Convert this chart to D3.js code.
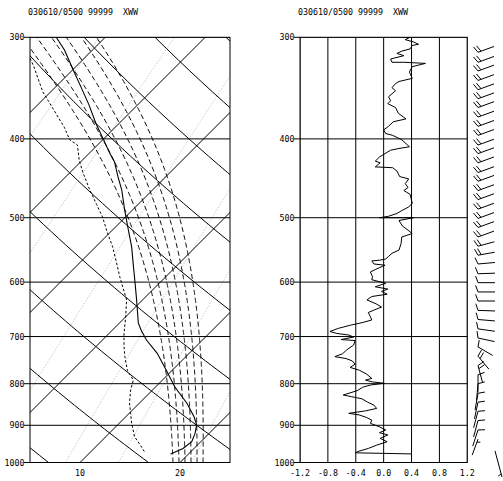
<!DOCTYPE html>
<html>
<head>
<meta charset="utf-8">
<script src="https://cdn.jsdelivr.net/npm/d3@7"></script>
<style>
  body { margin: 0; background: #fff; }
  text { font-family: "DejaVu Sans Mono", monospace; font-size: 8.3px; fill: #000; white-space: pre; }
</style>
</head>
<body>
<svg id="chart" width="503" height="481"></svg>
<script>
'use strict';

// Title shown above both panels
var title = '030610/0500 99999  XWW';

// Pressure levels (hPa) used for grid lines and labels
var pressureTicks = [300, 400, 500, 600, 700, 800, 900, 1000];
var tempTicks = [10, 20];
var valueTicks = [-1.2, -0.8, -0.4, 0.0, 0.4, 0.8, 1.2];

// Background lines of the thermodynamic diagram
var isotherms = [-30, -20, -10, 0, 10, 20];                 // degC
var dryAdiabats = [280, 290, 300, 310, 320, 330, 340, 350, 360]; // theta, K
var moistStart = [19.3, 19.9, 20.5, 21.1, 21.7, 22.3];     // degC at 1000 hPa
var mixRatios = [1, 2, 4, 7, 10, 16, 24];                   // g/kg

// Temperature profile (solid)
var tempP = [300, 311, 328, 343, 363, 383, 398, 417, 427, 445, 462, 489, 513, 543, 569,
             596, 631, 674, 689, 707, 734, 770, 807, 846, 878, 899, 921, 943, 961, 976];
var tempT = [-34.9, -32.8, -30.1, -27.8, -24.9, -22.3, -20.3, -17.9, -16.6, -14.8, -13.1,
             -10.8, -8.8, -6.4, -4.6, -2.8, -0.6, 1.9, 3.0, 4.4, 6.8, 9.4, 11.9, 14.8,
             16.8, 17.9, 18.6, 19.1, 18.9, 18.2];

// Dew point profile (dotted)
var dewP = [311, 326, 350, 369, 387, 401, 407, 425, 440, 462, 482, 499, 521, 543, 567,
            591, 631, 662, 694, 720, 741, 770, 792, 814, 845, 869, 894, 930, 952, 974];
var dewT = [-36.6, -34.2, -30.8, -27.8, -25.1, -23.3, -22.0, -20.3, -18.7, -16.3, -14.1,
            -12.3, -10.3, -8.3, -6.4, -4.6, -1.6, 0.0, 1.5, 2.8, 3.9, 5.5, 7.1, 7.8, 9.0,
            10.1, 11.2, 12.9, 14.3, 15.6];

// Right panel profile
var profP = [300, 302, 304, 306, 307, 310, 312, 314, 316, 319, 322, 322, 323, 326, 331,
             337, 340, 342, 346, 349, 355, 359, 362, 366, 372, 378, 381, 386, 390, 394,
             396, 401, 409, 411, 413, 418, 421, 426, 428, 433, 434, 438, 445, 448, 454,
             459, 463, 468, 480, 485, 490, 494, 498, 500, 500, 504, 512, 518, 523, 528,
             538, 548, 553, 558, 562, 564, 565, 570, 572, 579, 583, 591, 596, 602, 608,
             612, 616, 621, 625, 631, 638, 644, 649, 654, 662, 668, 673, 678, 684, 690,
             694, 697, 701, 706, 708, 717, 727, 735, 741, 745, 750, 757, 764, 770, 778,
             788, 792, 796, 799, 803, 808, 816, 826, 830, 835, 843, 850, 858, 864, 870,
             874, 880, 887, 895, 904, 912, 919, 925, 934, 943, 952, 961, 970, 973, 976];
var profV = [0.38, 0.31, 0.43, 0.50, 0.41, 0.38, 0.26, 0.19, 0.29, 0.10, 0.12, 0.29, 0.60,
             0.41, 0.37, 0.41, 0.22, 0.17, 0.12, 0.17, 0.07, 0.10, 0.06, 0.17, 0.21, 0.32,
             0.14, 0.07, 0.00, 0.03, 0.13, 0.26, 0.37, 0.22, 0.10, 0.00, -0.06, -0.12,
             -0.05, -0.12, 0.13, 0.19, 0.23, 0.36, 0.31, 0.35, 0.29, 0.38, 0.41, 0.36, 0.26,
             0.19, 0.07, -0.06, 0.43, 0.22, 0.27, 0.35, 0.41, 0.26, 0.25, 0.22, 0.12, 0.07,
             0.03, -0.06, -0.17, -0.14, 0.02, -0.12, -0.19, -0.16, -0.17, 0.03, -0.12, 0.06,
             -0.03, 0.05, -0.17, -0.24, -0.11, -0.03, -0.13, -0.22, -0.19, -0.17, -0.31,
             -0.48, -0.65, -0.77, -0.67, -0.50, -0.43, -0.61, -0.41, -0.43, -0.53, -0.59,
             -0.70, -0.54, -0.45, -0.41, -0.48, -0.35, -0.25, -0.17, -0.26, -0.16, 0.01,
             -0.19, -0.30, -0.38, -0.58, -0.46, -0.31, -0.23, -0.14, -0.10, -0.26, -0.50,
             -0.35, -0.25, -0.17, -0.19, -0.06, 0.03, -0.06, 0.06, -0.05, 0.05, -0.10, -0.22,
             -0.38, -0.40, 0.40];

// Wind barbs: pressure, direction (deg), speed (kt); last one is the surface wind
var barbP = [313, 322, 330, 339, 348, 357, 366, 376, 386, 396, 407, 417, 428, 440, 451,
             463, 475, 488, 501, 514, 528, 542, 556, 570, 586, 601, 617, 633, 650, 667,
             685, 703, 721, 740, 760, 780, 800, 822, 843, 865, 888, 912, 936, 1042];
var barbDir = [250, 250, 250, 250, 250, 250, 250, 250, 250, 250, 250, 250, 250, 250, 250,
               250, 250, 250, 250, 250, 250, 255, 260, 265, 268, 270, 270, 270, 272, 275,
               278, 282, 300, 320, 345, 0, 5, 10, 12, 15, 15, 18, 20, 165];
var barbSpd = [20, 20, 20, 20, 20, 20, 20, 20, 20, 20, 20, 20, 20, 20, 20,
               20, 20, 20, 20, 20, 20, 20, 20, 10, 10, 10, 10, 10, 10, 10,
               10, 10, 10, 20, 20, 10, 10, 10, 10, 10, 10, 10, 5, 5];


var svg = d3.select('#chart');

var yTop = 37.3, yBot = 462.5;
var y = d3.scaleLog().domain([1000, 300]).range([yBot, yTop]);
var x = d3.scaleLinear().domain([5, 25]).range([30, 230]);
var v = d3.scaleLinear().domain([-1.2, 1.2]).range([300, 467.3]);

// skew so that isotherms run at 45 degrees
var SKEW = (y(1000) - y(300)) / Math.log(1000 / 300) / (x(1) - x(0));

function sx(t, p) {
    return x(t + SKEW * Math.log(1000 / p));
}

var line = d3.line()
    .x(function (d) { return sx(d[1], d[0]); })
    .y(function (d) { return y(d[0]); });

function levels(step) {
    return d3.range(1000, 300 - step / 2, -step);
}

// Thermodynamics helpers for the background lines
function satMix(tk, p) {
    var es = 6.112 * Math.exp(17.67 * (tk - 273.15) / (tk - 29.65));
    return 0.622 * es / (p - es);
}

function moistLapse(tk, p) {
    var rs = satMix(tk, p);
    return (287.04 * tk + 2.501e6 * rs) /
        (p * (1005.7 + 2.501e6 * 2.501e6 * rs * 0.622 / (287.04 * tk * tk)));
}

function moistCurve(t0) {
    var pts = [], tk = t0 + 273.15, p = 1000, dp = -2;
    while (p >= 298) {
        pts.push([p, tk - 273.15]);
        var k1 = moistLapse(tk, p);
        var k2 = moistLapse(tk + k1 * dp / 2, p + dp / 2);
        tk += k2 * dp;
        p += dp;
    }
    return pts;
}

function dewFromMix(w, p) {
    var e = w * p / (622 + w), l = Math.log(e / 6.112);
    return 243.5 * l / (17.67 - l);
}


var defs = svg.append('defs');
defs.append('clipPath').attr('id', 'clipL')
    .append('rect').attr('x', 30).attr('y', yTop).attr('width', 200).attr('height', yBot - yTop);
defs.append('clipPath').attr('id', 'clipR')
    .append('rect').attr('x', 300).attr('y', yTop).attr('width', 167.3).attr('height', yBot - yTop);


// ---------- left panel ----------
var left = svg.append('g');
var bg = left.append('g').attr('clip-path', 'url(#clipL)');

// mixing ratio lines
bg.selectAll('.mix').data(mixRatios).enter().append('path')
    .attr('d', function (w) {
        return line(levels(10).map(function (p) { return [p, dewFromMix(w, p)]; }));
    })
    .attr('fill', 'none').attr('stroke', '#bdbdbd').attr('stroke-width', 0.8)
    .attr('stroke-dasharray', '1.5,1.5');

// isotherms
bg.selectAll('.iso').data(isotherms).enter().append('path')
    .attr('d', function (t) { return line([[1000, t], [300, t]]); })
    .attr('fill', 'none').attr('stroke', '#000').attr('stroke-width', 1);

// dry adiabats
bg.selectAll('.dry').data(dryAdiabats).enter().append('path')
    .attr('d', function (th) {
        return line(levels(10).map(function (p) {
            return [p, th * Math.pow(p / 1000, 0.2857) - 273.15];
        }));
    })
    .attr('fill', 'none').attr('stroke', '#000').attr('stroke-width', 1);

// moist adiabats
bg.selectAll('.moist').data(moistStart).enter().append('path')
    .attr('d', function (t0) { return line(moistCurve(t0)); })
    .attr('fill', 'none').attr('stroke', '#000').attr('stroke-width', 1)
    .attr('stroke-dasharray', '5,3');

// pressure lines
bg.selectAll('.plev').data(pressureTicks).enter().append('line')
    .attr('x1', 30).attr('x2', 230)
    .attr('y1', function (p) { return y(p); }).attr('y2', function (p) { return y(p); })
    .attr('stroke', '#000').attr('stroke-width', 1);

// dew point and temperature
bg.append('path')
    .attr('d', line(d3.zip(dewP, dewT)))
    .attr('fill', 'none').attr('stroke', '#000').attr('stroke-width', 1)
    .attr('stroke-dasharray', '2.5,2');

bg.append('path')
    .attr('d', line(d3.zip(tempP, tempT)))
    .attr('fill', 'none').attr('stroke', '#000').attr('stroke-width', 1.1);

left.append('rect')
    .attr('x', 30).attr('y', yTop).attr('width', 200).attr('height', yBot - yTop)
    .attr('fill', 'none').attr('stroke', '#000').attr('stroke-width', 1);

function pressureAxis(g, x0) {
    g.selectAll('.tk').data(pressureTicks).enter().append('line')
        .attr('x1', x0 - 6).attr('x2', x0)
        .attr('y1', function (p) { return y(p); }).attr('y2', function (p) { return y(p); })
        .attr('stroke', '#000');
    g.selectAll('.lb').data(pressureTicks).enter().append('text')
        .attr('x', x0 - 5.5).attr('y', function (p) { return y(p) + 3; })
        .attr('text-anchor', 'end')
        .text(function (p) { return p; });
}

pressureAxis(left, 30);

left.selectAll('.tl').data(tempTicks).enter().append('text')
    .attr('x', function (t) { return x(t); }).attr('y', 476)
    .attr('text-anchor', 'middle')
    .text(function (t) { return t; });

left.append('text').attr('x', 28).attr('y', 15).text(title);


// ---------- right panel ----------
var right = svg.append('g');
var fg = right.append('g').attr('clip-path', 'url(#clipR)');

fg.selectAll('.vg').data(valueTicks).enter().append('line')
    .attr('x1', function (d) { return v(d); }).attr('x2', function (d) { return v(d); })
    .attr('y1', yTop).attr('y2', yBot)
    .attr('stroke', '#000');

fg.selectAll('.hg').data(pressureTicks).enter().append('line')
    .attr('x1', 300).attr('x2', 467.3)
    .attr('y1', function (p) { return y(p); }).attr('y2', function (p) { return y(p); })
    .attr('stroke', '#000');

fg.append('path')
    .attr('d', d3.line()
        .x(function (d) { return v(d[1]); })
        .y(function (d) { return y(d[0]); })(d3.zip(profP, profV)))
    .attr('fill', 'none').attr('stroke', '#000').attr('stroke-width', 1);

right.append('rect')
    .attr('x', 300).attr('y', yTop).attr('width', 167.3).attr('height', yBot - yTop)
    .attr('fill', 'none').attr('stroke', '#000');

pressureAxis(right, 300);

right.selectAll('.vl').data(valueTicks).enter().append('text')
    .attr('x', function (d) { return v(d); }).attr('y', 476)
    .attr('text-anchor', 'middle')
    .text(function (d) { return d.toFixed(1); });

right.append('text').attr('x', 298).attr('y', 15).text(title);


// ---------- wind barbs ----------
// barbs are anchored at their feathered tip; the staff runs back to the station
var TIP_X = 478, SFC_TIP_X = 502;
var STAFF = 17, SFC_STAFF = 27, FEATHER = 7, GAP = 3.2;

function barbPath(tx, ty, dir, spd, staff) {
    var a = dir * Math.PI / 180;
    var ux = Math.sin(a), uy = -Math.cos(a);        // points into the wind
    var sxp = tx - ux * staff, syp = ty - uy * staff; // station end
    var b = 70 * Math.PI / 180;
    var fx = ux * Math.cos(b) - uy * Math.sin(b),
        fy = ux * Math.sin(b) + uy * Math.cos(b);
    var d = 'M' + sxp + ',' + syp + 'L' + tx + ',' + ty;
    var full = Math.floor(spd / 10), half = (spd % 10) >= 5 ? 1 : 0;
    var i, bx, by;
    for (i = 0; i < full; i++) {
        bx = tx - ux * GAP * i; by = ty - uy * GAP * i;
        d += 'M' + bx + ',' + by + 'l' + fx * FEATHER + ',' + fy * FEATHER;
    }
    if (half) {
        var k = full || 1;
        bx = tx - ux * GAP * k; by = ty - uy * GAP * k;
        d += 'M' + bx + ',' + by + 'l' + fx * FEATHER / 2 + ',' + fy * FEATHER / 2;
    }
    return d;
}

var last = barbP.length - 1;
svg.append('g').selectAll('path').data(d3.range(barbP.length)).enter().append('path')
    .attr('d', function (i) {
        return barbPath(i === last ? SFC_TIP_X : TIP_X, y(barbP[i]),
            barbDir[i], barbSpd[i], i === last ? SFC_STAFF : STAFF);
    })
    .attr('fill', 'none').attr('stroke', '#000').attr('stroke-width', 1);
</script>
</body>
</html>
